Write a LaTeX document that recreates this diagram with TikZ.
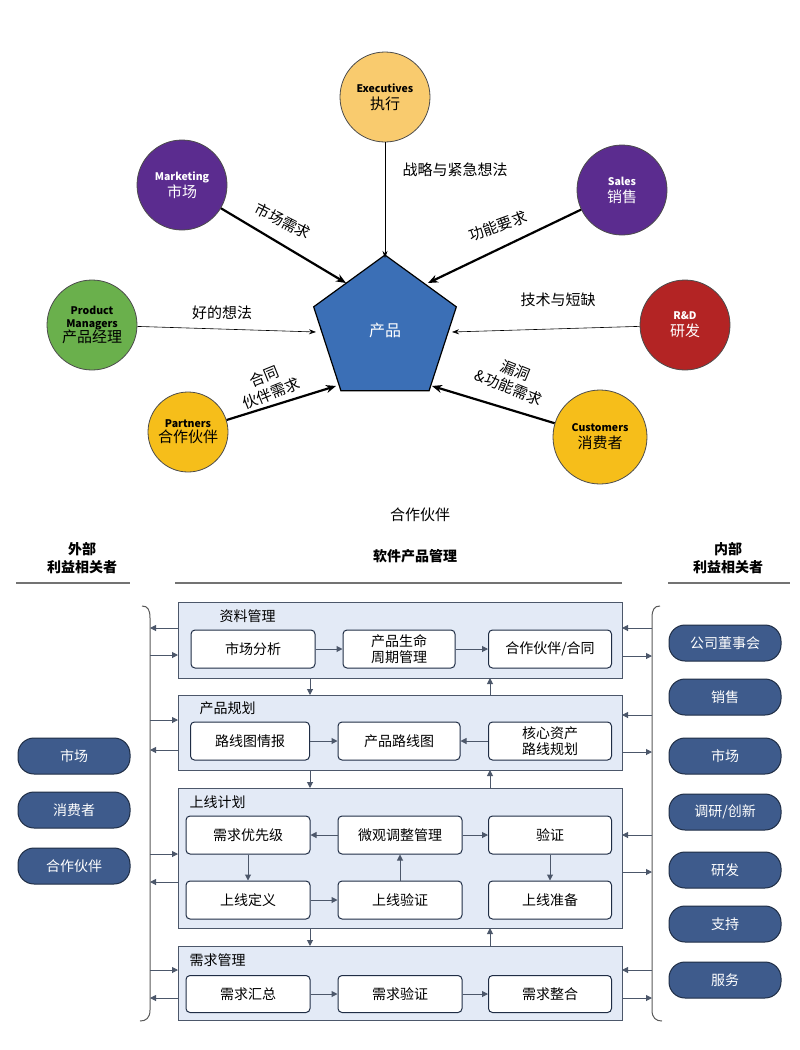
\documentclass[tikz,border=0pt]{standalone}
\usepackage{fontspec}
\setmainfont{Noto Sans CJK SC}
\usetikzlibrary{shapes.geometric,arrows.meta}
\definecolor{pent}{HTML}{3B6FB6}
\definecolor{purp}{HTML}{5B2C8F}
\definecolor{grn}{HTML}{6AB04C}
\definecolor{redd}{HTML}{B32424}
\definecolor{yel}{HTML}{F6BE1A}
\definecolor{orng}{HTML}{F9CB6E}
\definecolor{pill}{HTML}{3E5B8C}
\definecolor{panel}{HTML}{E3EAF6}
\definecolor{dk}{HTML}{1F2D45}
\newcommand{\lat}[1]{{\bfseries\fontsize{10.5}{13}\selectfont #1}}
\begin{document}
\begin{tikzpicture}[x=1pt,y=-1pt,
  circ/.style={circle,draw=black!70,line width=0.8pt,minimum size=90pt,align=center,font=\fontsize{15}{17}\selectfont,inner sep=0pt},
  thin/.style={-{Stealth[length=7pt,width=5pt]},line width=0.6pt},
  thick/.style={-{Stealth[length=10pt,width=8pt]},line width=2.2pt},
  lab/.style={font=\fontsize{15}{18}\selectfont,align=center},
  pnl/.style={draw=dk!80,fill=panel,line width=1pt},
  bx/.style={draw=dk,fill=white,rounded corners=4pt,line width=1pt,align=center,font=\fontsize{14}{16}\selectfont,inner sep=1pt},
  pl/.style={rounded corners=16pt,fill=pill,draw=dk,line width=1pt,text=white,minimum width=112pt,minimum height=36pt,font=\fontsize{14}{16}\selectfont},
  ar/.style={-{Triangle[length=6pt,width=6pt]},line width=1pt,draw=dk!80,fill=dk},
  ttl/.style={font=\fontsize{14}{16}\selectfont,anchor=west},
  hd/.style={font=\bfseries\fontsize{14}{18}\selectfont,align=center},
  hl/.style={line width=2.5pt,draw=black!55}]
\useasboundingbox (0,0) rectangle (800,1050);
% top
\node[regular polygon,regular polygon sides=5,minimum size=150pt,fill=pent,draw=black,line width=1.2pt,text=white,font=\fontsize{16}{18}\selectfont] (p) at (385,330) {产品};
\node[circ,fill=orng] (ex) at (385,97) {\lat{Executives}\\执行};
\node[circ,fill=purp,text=white] (mk) at (182,185) {\lat{Marketing}\\市场};
\node[circ,fill=purp,text=white] (sa) at (622,190) {\lat{Sales}\\销售};
\node[circ,fill=grn] (pm) at (92,325) {\lat{Product}\\[-4pt]\lat{Managers}\\[-2pt]产品经理};
\node[circ,fill=redd,text=white] (rd) at (685,325) {\lat{R\&D}\\研发};
\node[circ,fill=yel,minimum size=80pt] (pa) at (188,432) {\lat{Partners}\\[-2pt]合作伙伴};
\node[circ,fill=yel,minimum size=94pt] (cu) at (600,437) {\lat{Customers}\\消费者};
\coordinate (pt) at (385,258);
\coordinate (pml) at (346,283);
\coordinate (pmr) at (428,283);
\coordinate (pl) at (316,332);
\coordinate (pr) at (452,332);
\coordinate (pbl) at (336,386);
\coordinate (pbr) at (432,386);
\draw[thin] (ex) -- (pt);
\draw[thick] (mk) -- (pml);
\draw[thick] (sa) -- (pmr);
\draw[thin] (pm) -- (pl);
\draw[thin] (rd) -- (pr);
\draw[thick] (pa) -- (pbl);
\draw[thick] (cu) -- (pbr);
\node[lab] at (455,170) {战略与紧急想法};
\node[lab,rotate=-27] at (283,221) {市场需求};
\node[lab,rotate=20] at (498,226) {功能要求};
\node[lab] at (222,313) {好的想法};
\node[lab] at (558,300) {技术与短缺};
\node[lab,rotate=22] at (268,385) {合同\\伙伴需求};
\node[lab,rotate=-22] at (512,379) {漏洞\\\&功能需求};
\node[lab] at (420,515) {合作伙伴};
% headers
\node[hd] at (82,558) {外部\\利益相关者};
\node[hd] at (415,556) {软件产品管理};
\node[hd] at (728,558) {内部\\利益相关者};
\draw[hl] (16,583) -- (130,583);
\draw[hl] (175,583) -- (622,583);
\draw[hl] (668,583) -- (790,583);
% brackets
\draw[line width=1pt,draw=black!65] (142,606) .. controls (148,606) and (150,610) .. (150,618) -- (150,1010) .. controls (150,1018) and (146,1021) .. (140,1021);
\draw[line width=1pt,draw=black!65] (660,606) .. controls (654,606) and (652,610) .. (652,618) -- (652,1010) .. controls (652,1018) and (656,1021) .. (662,1021);
% panels
\node[pnl,minimum width=444pt,minimum height=76pt] (P1) at (400,640) {};
\node[pnl,minimum width=444pt,minimum height=75pt] (P2) at (400,732.5) {};
\node[pnl,minimum width=444pt,minimum height=140pt] (P3) at (400,858) {};
\node[pnl,minimum width=444pt,minimum height=74pt] (P4) at (400,983) {};
\node[ttl] at (216,616) {资料管理};
\node[ttl] at (196,708) {产品规划};
\node[ttl] at (186,802) {上线计划};
\node[ttl] at (186,960) {需求管理};
\begin{scope}[every node/.style={bx}]
\node[minimum width=124pt,minimum height=38pt] (a1) at (253,649) {市场分析};
\node[minimum width=112pt,minimum height=38pt] (a2) at (399,649) {产品生命\\周期管理};
\node[minimum width=123pt,minimum height=38pt] (a3) at (550,649) {合作伙伴/合同};
\node[minimum width=119pt,minimum height=38pt] (b1) at (250,741) {路线图情报};
\node[minimum width=122pt,minimum height=38pt] (b2) at (399,741) {产品路线图};
\node[minimum width=123pt,minimum height=38pt] (b3) at (550,741) {核心资产\\路线规划};
\node[minimum width=124pt,minimum height=38pt] (c1) at (248,835) {需求优先级};
\node[minimum width=124pt,minimum height=38pt] (c2) at (400,835) {微观调整管理};
\node[minimum width=123pt,minimum height=38pt] (c3) at (550,835) {验证};
\node[minimum width=124pt,minimum height=38pt] (d1) at (248,900) {上线定义};
\node[minimum width=124pt,minimum height=38pt] (d2) at (400,900) {上线验证};
\node[minimum width=123pt,minimum height=38pt] (d3) at (550,900) {上线准备};
\node[minimum width=124pt,minimum height=37pt] (e1) at (248,994) {需求汇总};
\node[minimum width=124pt,minimum height=37pt] (e2) at (400,994) {需求验证};
\node[minimum width=123pt,minimum height=37pt] (e3) at (550,994) {需求整合};
\end{scope}
\draw[ar] (a1) -- (a2); \draw[ar] (a2) -- (a3);
\draw[ar] (b1) -- (b2); \draw[ar] (b3) -- (b2);
\draw[ar] (c2) -- (c1); \draw[ar] (c2) -- (c3);
\draw[ar] (c1) -- (d1); \draw[ar] (d1) -- (d2); \draw[ar] (d2) -- (c2); \draw[ar] (c3) -- (d3);
\draw[ar] (e1) -- (e2); \draw[ar] (e2) -- (e3);
% between panels
\draw[ar] (310,678) -- (310,695); \draw[ar] (490,695) -- (490,678);
\draw[ar] (310,770) -- (310,788); \draw[ar] (490,788) -- (490,770);
\draw[ar] (310,928) -- (310,946); \draw[ar] (490,946) -- (490,928);
% side arrows
\draw[ar] (178,628) -- (150,628); \draw[ar] (150,655) -- (178,655);
\draw[ar] (150,720) -- (178,720); \draw[ar] (178,750) -- (150,750);
\draw[ar] (150,854) -- (178,854); \draw[ar] (178,882) -- (150,882);
\draw[ar] (150,970) -- (178,970); \draw[ar] (178,998) -- (150,998);
\draw[ar] (652,628) -- (622,628); \draw[ar] (622,656) -- (652,656);
\draw[ar] (652,715) -- (622,715); \draw[ar] (622,752) -- (652,752);
\draw[ar] (652,835) -- (622,835); \draw[ar] (622,872) -- (652,872);
\draw[ar] (652,970) -- (622,970); \draw[ar] (622,998) -- (652,998);
% pills
\node[pl] (l1) at (74,756) {市场};
\node[pl] (l2) at (74,810) {消费者};
\node[pl] (l3) at (74,866) {合作伙伴};
\node[pl] (r1) at (725,643) {公司董事会};
\node[pl] (r2) at (725,697) {销售};
\node[pl] (r3) at (725,756) {市场};
\node[pl] (r4) at (725,812) {调研/创新};
\node[pl] (r5) at (725,870) {研发};
\node[pl] (r6) at (725,924) {支持};
\node[pl] (r7) at (725,980) {服务};
\end{tikzpicture}
\end{document}
